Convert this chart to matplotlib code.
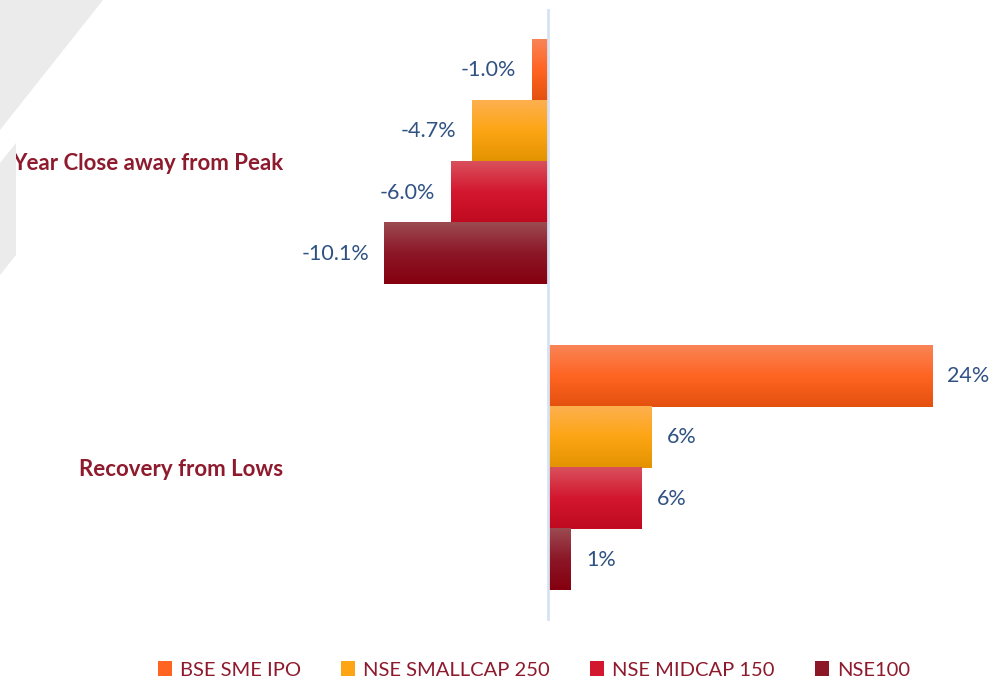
import numpy as np
import matplotlib
matplotlib.use("Agg")
import matplotlib.pyplot as plt
from matplotlib.colors import LinearSegmentedColormap
from matplotlib.patches import Polygon, Patch

# data
categories = ["Year Close away from Peak", "Recovery from Lows"]
series = ["BSE SME IPO", "NSE SMALLCAP 250", "NSE MIDCAP 150", "NSE100"]
peak_vals = [-1.0, -4.7, -6.0, -10.1]
recovery_vals = [23.7, 6.4, 5.8, 1.4]

# gradient colours per series (top, middle, bottom)
grads = [
    ["#F98456", "#FF6422", "#E4510F"],
    ["#FDB04E", "#FDA514", "#E39300"],
    ["#D9505C", "#D3172F", "#BF0A20"],
    ["#9C4A50", "#8C1727", "#85000F"],
]
label_col = "#2F5283"
cat_col = "#8E1A2D"

plt.rcParams["font.family"] = ["Lato", "DejaVu Sans"]

W, H = 989, 681
fig = plt.figure(figsize=(W / 100, H / 100), dpi=100)

# grey decoration top-left (figure pixel coords from top)
def px(pts):
    return [(x / W, 1 - y / H) for x, y in pts]

fig.patches.append(Polygon(px([(0, 0), (103, 0), (0, 130)]), closed=True,
                           facecolor="#EBEBEB", edgecolor="none",
                           transform=fig.transFigure, zorder=0))
fig.patches.append(Polygon(px([(0, 163), (16, 143), (16, 255), (0, 275)]), closed=True,
                           facecolor="#EBEBEB", edgecolor="none",
                           transform=fig.transFigure, zorder=0))

ax = fig.add_axes([300 / W, 1 - 621 / H, 675 / W, 612 / H])
ax.patch.set_alpha(0)

ypos = [1, 0]
offsets = [0.3, 0.1, -0.1, -0.3]
grad = np.linspace(0, 1, 100).reshape(-1, 1)

for g, vals in enumerate([peak_vals, recovery_vals]):
    for i, v in enumerate(vals):
        y = ypos[g] + offsets[i]
        bar = ax.barh(y, v, height=0.2, color="none", edgecolor="none")[0]
        cmap = LinearSegmentedColormap.from_list("g%d" % i, grads[i])
        x0, x1 = sorted([0, v])
        ax.imshow(grad, cmap=cmap, aspect="auto", origin="upper",
                  extent=(x0, x1, y - 0.1, y + 0.1), zorder=2)
        if v < 0:
            ax.annotate(f"{v:.1f}%", (v, y), xytext=(-11, 0), textcoords="offset points",
                        ha="right", va="center", fontsize=15.5, color=label_col)
        else:
            ax.annotate(f"{v:.0f}%", (v, y), xytext=(11, 0), textcoords="offset points",
                        ha="left", va="center", fontsize=15.5, color=label_col)

ax.axvline(0, color="#D6E2F4", lw=2, zorder=3)
ax.set_xlim(-15.3, 26.36)
ax.set_ylim(-0.5, 1.5)
ax.set_xticks([])
ax.set_yticks(ypos)
ax.set_yticklabels(categories, fontsize=16, fontweight="bold", color=cat_col)
ax.tick_params(axis="y", length=0, pad=12)
for s in ax.spines.values():
    s.set_visible(False)

handles = [Patch(facecolor=grads[i][1], edgecolor="none", label=series[i]) for i in range(4)]
leg = fig.legend(handles=handles, loc="center", bbox_to_anchor=(534 / W, 1 - 670 / H),
                 ncol=4, frameon=False, fontsize=14.5, handlelength=0.7, handleheight=0.7,
                 handletextpad=0.4, columnspacing=2.0)
for t in leg.get_texts():
    t.set_color(cat_col)

fig.savefig("out.png", dpi=100)
